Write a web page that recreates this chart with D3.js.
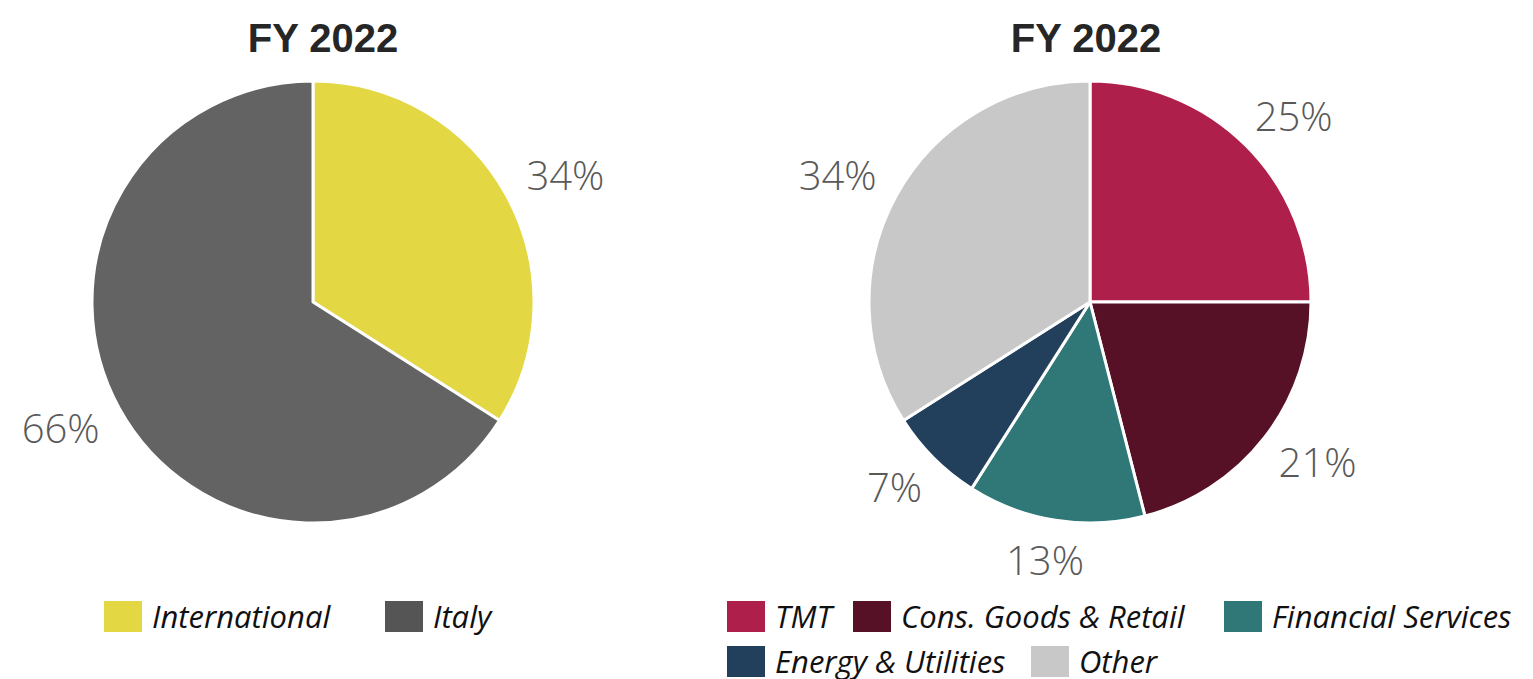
<!DOCTYPE html>
<html>
<head>
<meta charset="utf-8">
<script src="https://cdn.jsdelivr.net/npm/d3@7"></script>
<style>
  body { margin: 0; background: #fff; }
  svg { display: block; }
  .title { font-family: "Liberation Sans", Arial, sans-serif; font-weight: bold; font-size: 40px; fill: #262626; }
  .pct { font-family: "Open Sans", "DejaVu Sans", sans-serif; font-weight: 300; font-size: 40px; fill: #595959; }
  .leg { font-family: "Open Sans", "DejaVu Sans", sans-serif; font-style: italic; font-weight: 400; font-size: 31px; fill: #111; }
</style>
</head>
<body>
<svg id="chart"></svg>
<script>
// data
var regionLabels = ['International', 'Italy'];
var regionValues = [34, 66];
var regionColors = ['#E3D743', '#636363'];

var sectorLabels = ['TMT', 'Cons. Goods & Retail', 'Financial Services', 'Energy & Utilities', 'Other'];
var sectorValues = [25, 21, 13, 7, 34];
var sectorColors = ['#AF1F4C', '#561126', '#307777', '#22405C', '#C8C8C8'];

var title = 'FY 2022';

var width = 1533, height = 679;
var radius = 221;
var labelRadiusX = 249;   // where the label box touches
var labelRadiusY = 242;
var labelBoxH = 40;

var svg = d3.select('#chart')
  .attr('width', width)
  .attr('height', height);

var pie = d3.pie()
  .sort(null)
  .value(function(d) { return d.value; });

var arc = d3.arc()
  .innerRadius(0)
  .outerRadius(radius);

function drawPie(labels, values, colors, cx, cy, titleX) {
  var data = labels.map(function(l, i) {
    return { label: l, value: values[i], color: colors[i] };
  });

  svg.append('text')
    .attr('class', 'title')
    .attr('x', titleX)
    .attr('y', 52)
    .attr('text-anchor', 'middle')
    .text(title);

  var g = svg.append('g')
    .attr('transform', 'translate(' + cx + ',' + cy + ')');

  var slices = g.selectAll('.slice')
    .data(pie(data))
    .enter()
    .append('g')
    .attr('class', 'slice');

  slices.append('path')
    .attr('d', arc)
    .attr('fill', function(d) { return d.data.color; })
    .attr('stroke', '#fff')
    .attr('stroke-width', 3)
    .attr('stroke-linejoin', 'round');

  // labels sit outside, box pushed out along the mid angle
  slices.append('text')
    .attr('class', 'pct')
    .attr('text-anchor', 'middle')
    .attr('dy', '0.36em')
    .text(function(d) { return d.data.value + '%'; })
    .attr('transform', function(d) {
      var a = (d.startAngle + d.endAngle) / 2;
      var w = this.getComputedTextLength();
      var x = Math.sin(a) * (labelRadiusX + w / 2);
      var y = -Math.cos(a) * (labelRadiusY + labelBoxH / 2);
      return 'translate(' + x + ',' + y + ')';
    });

  return data;
}

function drawLegend(data, rows, swatchW) {
  rows.forEach(function(row) {
    row.items.forEach(function(it) {
      var d = data[it.i];
      svg.append('rect')
        .attr('x', it.x)
        .attr('y', row.y)
        .attr('width', swatchW)
        .attr('height', 31)
        .attr('fill', it.swatch || d.color);
      svg.append('text')
        .attr('class', 'leg')
        .attr('x', it.x + swatchW + 10)
        .attr('y', row.y + 27)
        .text(d.label);
    });
  });
}

var left = drawPie(regionLabels, regionValues, regionColors, 313, 302, 323);
var right = drawPie(sectorLabels, sectorValues, sectorColors, 1090, 302, 1086);

drawLegend(left, [
  { y: 601, items: [{ i: 0, x: 104 }, { i: 1, x: 385, swatch: '#555555' }] }
], 38);

drawLegend(right, [
  { y: 601, items: [{ i: 0, x: 727 }, { i: 1, x: 853 }, { i: 2, x: 1224 }] },
  { y: 646, items: [{ i: 3, x: 727 }, { i: 4, x: 1031 }] }
], 38);
</script>
</body>
</html>
